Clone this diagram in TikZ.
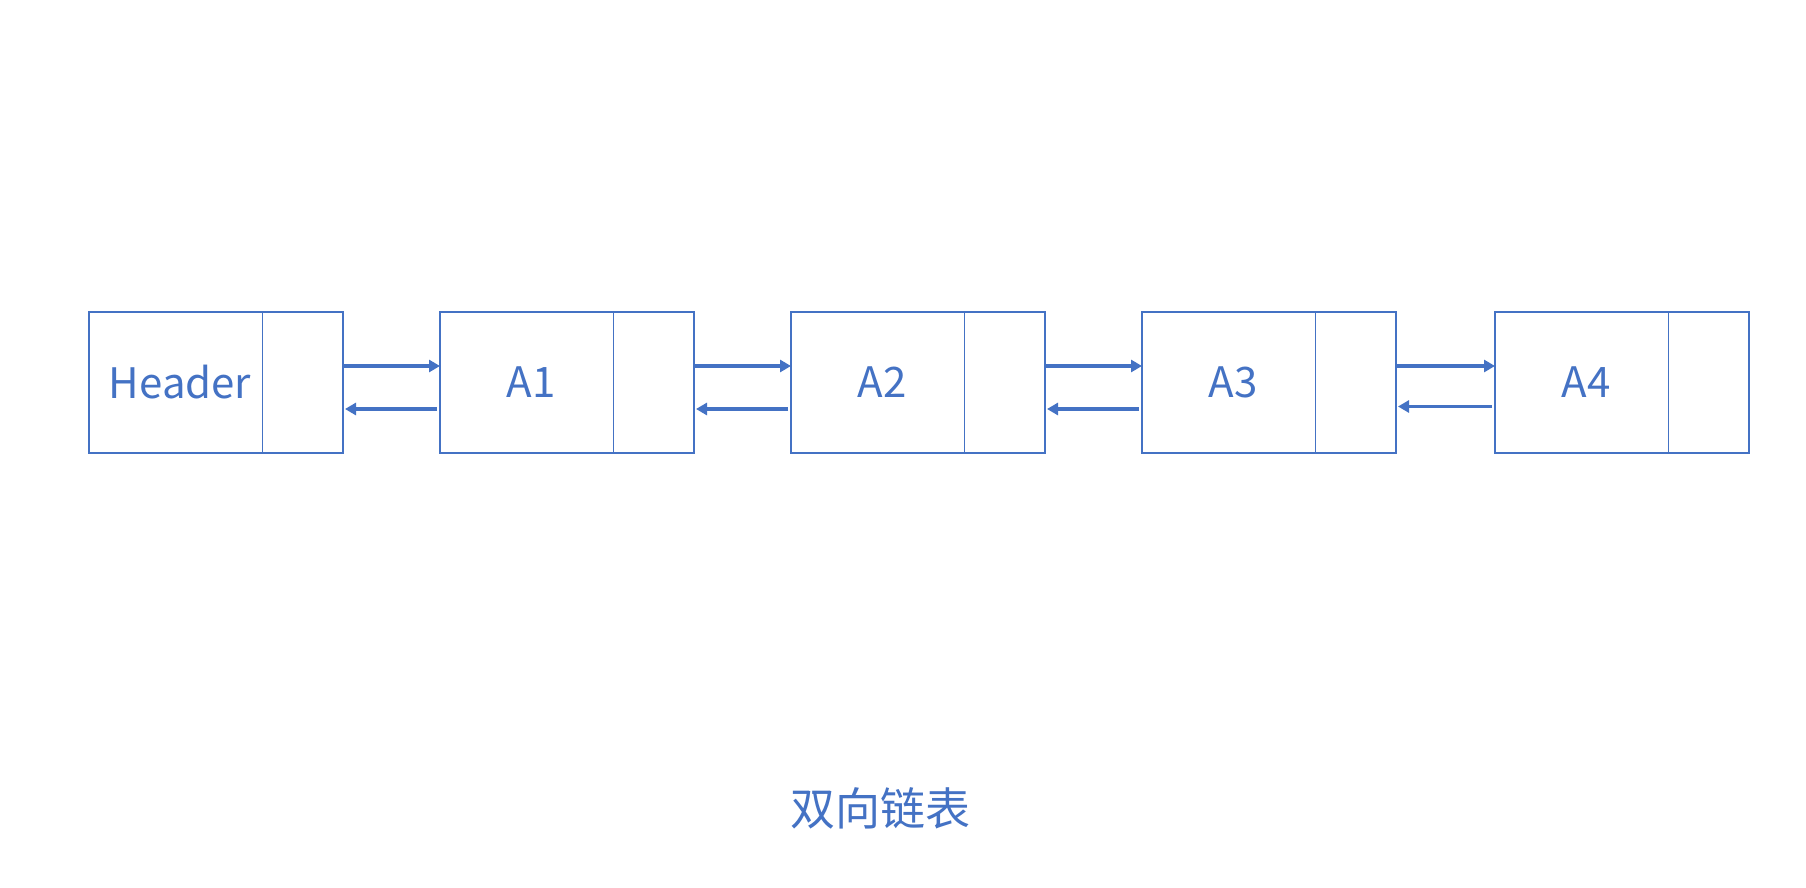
\documentclass[tikz,border=0pt]{standalone}
\usepackage{fontspec}
\setmainfont{Noto Sans CJK SC}
\newfontfamily\cjk{Noto Sans CJK SC}
\usetikzlibrary{arrows.meta}
\definecolor{obl}{RGB}{68,114,196}
\tikzset{
  cellbox/.style={draw=obl, line width=2.6pt, minimum width=254pt, minimum height=141pt, inner sep=0pt, outer sep=0pt},
  celltext/.style={text=obl, font=\fontsize{42}{50}\selectfont, inner sep=0pt},
  divider/.style={draw=obl, line width=1.4pt},
  arr/.style={draw=obl, line width=3.2pt, -{Triangle[length=11pt,width=12pt]}},
  titletext/.style={text=obl, font=\cjk\fontsize{45}{50}\selectfont, inner sep=0pt}
}
\begin{document}
\begin{tikzpicture}[x=1pt,y=-1pt]
\useasboundingbox (0,0) rectangle (1806,888);
\fill[white] (0,0) rectangle (1806,888);
\foreach \i/\cx/\lab in {0/216/Header,1/567/A1,2/918/A2,3/1269/A3,4/1622/A4}{
  \node[cellbox] (n\i) at (\cx,382.5) {};
  \draw[divider] ([xshift=173.3pt]n\i.north west) -- ([xshift=173.3pt]n\i.south west);
  \node[celltext] (t\i) at ([xshift=91pt]n\i.west) {\lab};
}
\foreach \i/\j/\bo in {0/1/26.5,1/2/26.5,2/3/26.5,3/4/24}{
  \draw[arr] ([yshift=16.5pt]n\i.east) -- ([yshift=16.5pt]n\j.west);
  \draw[arr, shorten <=3pt, shorten >=2pt] ([yshift=-\bo pt]n\j.west) -- ([yshift=-\bo pt]n\i.east);
}
\node[titletext] (title) at (880,808) {双向链表};
\end{tikzpicture}
\end{document}
